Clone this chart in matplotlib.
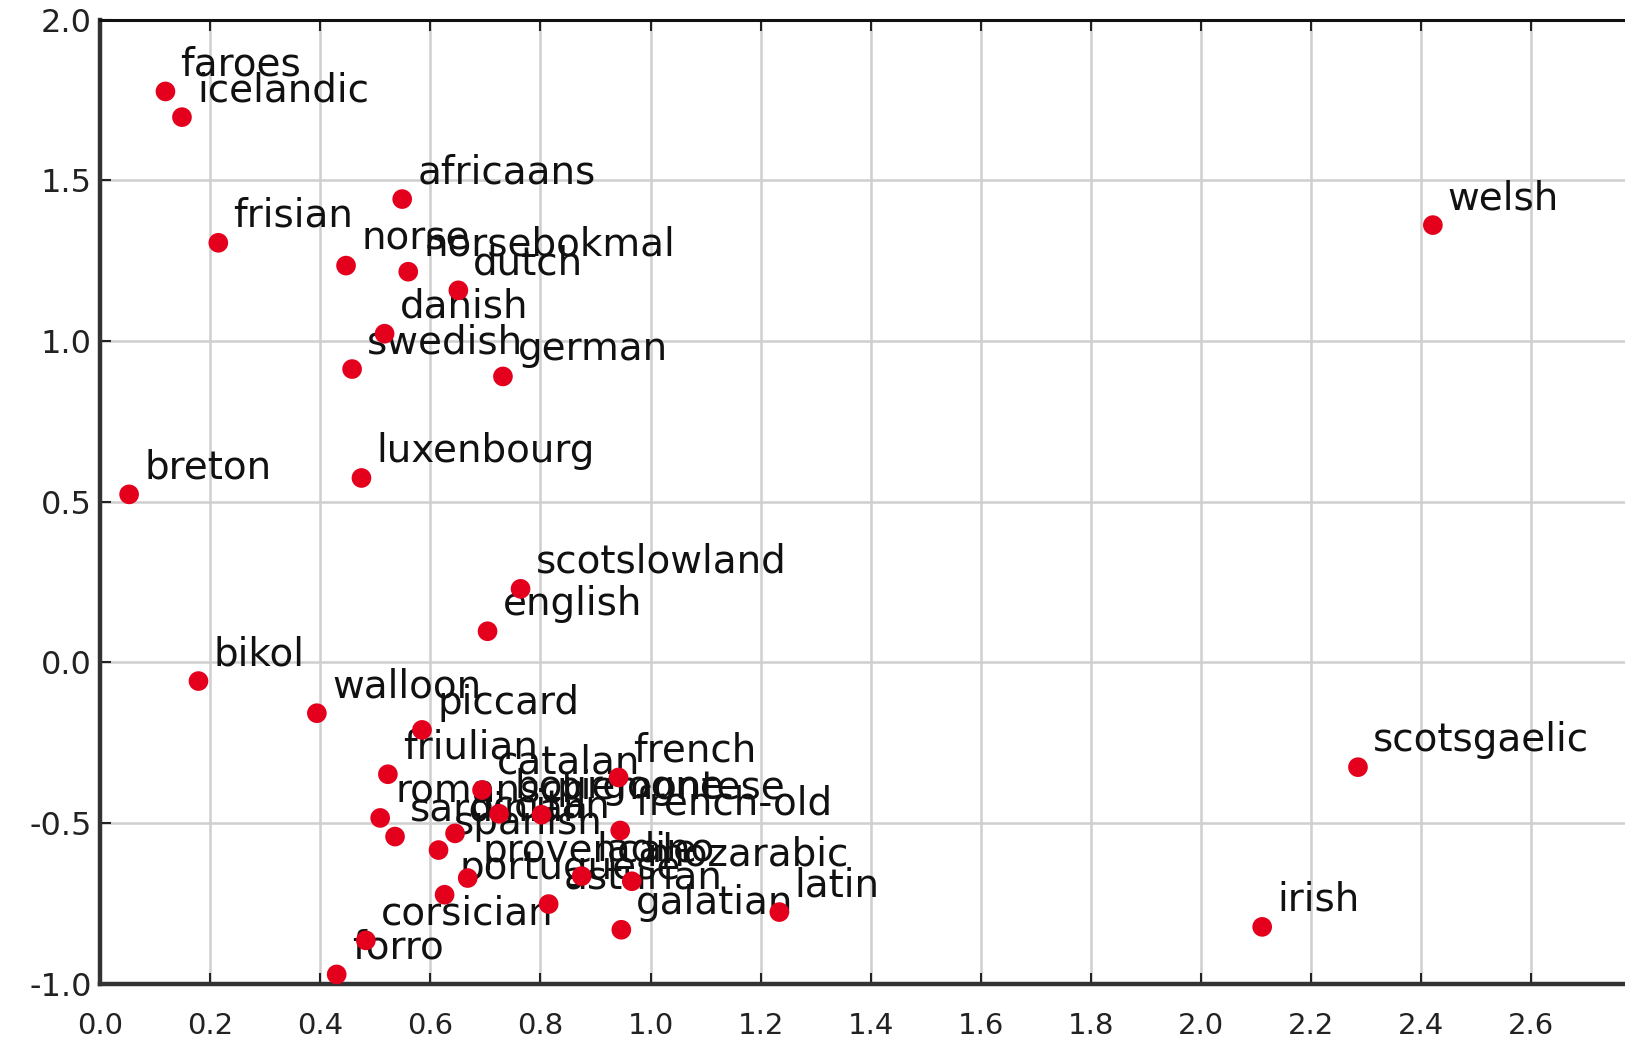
import matplotlib
matplotlib.use("Agg")
import matplotlib.pyplot as plt

# Language positions in the 2-D projection
languages = [
    "faroes", "icelandic", "africaans", "frisian", "norse", "norsebokmal",
    "dutch", "danish", "swedish", "german", "breton", "luxenbourg",
    "scotslowland", "english", "bikol", "walloon", "piccard", "friulian",
    "catalan", "french", "romansch", "sardinian", "occitan", "bourgogne",
    "piemontese", "spanish", "french-old", "provencale", "portuguese",
    "asturian", "ladino", "mozarabic", "galatian", "latin", "corsician",
    "forro", "welsh", "scotsgaelic", "irish",
]
x_vals = [
    0.119, 0.149, 0.549, 0.215, 0.447, 0.560,
    0.651, 0.517, 0.458, 0.732, 0.053, 0.475,
    0.764, 0.704, 0.179, 0.394, 0.585, 0.523,
    0.694, 0.942, 0.509, 0.536, 0.645, 0.725,
    0.802, 0.615, 0.945, 0.668, 0.626,
    0.815, 0.875, 0.966, 0.947, 1.234, 0.483,
    0.430, 2.421, 2.285, 2.111,
]
y_vals = [
    1.777, 1.697, 1.442, 1.306, 1.235, 1.216,
    1.158, 1.023, 0.913, 0.890, 0.523, 0.574,
    0.229, 0.097, -0.058, -0.158, -0.210, -0.348,
    -0.397, -0.358, -0.484, -0.542, -0.532, -0.471,
    -0.474, -0.584, -0.523, -0.671, -0.723,
    -0.752, -0.665, -0.681, -0.832, -0.777, -0.865,
    -0.971, 1.361, -0.326, -0.823,
]
x_ticks = [0.0, 0.2, 0.4, 0.6, 0.8, 1.0, 1.2, 1.4, 1.6, 1.8, 2.0, 2.2, 2.4, 2.6]
y_ticks = [-1.0, -0.5, 0.0, 0.5, 1.0, 1.5, 2.0]

fig = plt.figure(figsize=(16.25, 10.41), dpi=100)
ax = fig.add_axes([0.0615, 0.055, 0.9385, 0.926])

ax.set_xlim(0.0, 2.77)
ax.set_ylim(-1.0, 2.0)
ax.set_xticks(x_ticks)
ax.set_yticks(y_ticks)
ax.set_xticklabels([f"{t:.1f}" for t in x_ticks], fontsize=21, color="#222222")
ax.set_yticklabels([f"{t:.1f}" for t in y_ticks], fontsize=23, color="#222222")

ax.grid(True, color="#cfcfcf", linewidth=1.8, zorder=0)
ax.set_axisbelow(True)

ax.tick_params(axis="both", direction="in", length=8, width=1.5, color="#222222")
ax.tick_params(axis="x", pad=20, top=True)
ax.tick_params(axis="y", pad=6)

for side in ("left", "bottom"):
    ax.spines[side].set_linewidth(3.2)
    ax.spines[side].set_color("#333333")
ax.spines["top"].set_linewidth(2.2)
ax.spines["top"].set_color("#111111")
ax.spines["right"].set_visible(False)

# Labels sit up and to the right of each point; points are drawn on top
for name, x, y in zip(languages, x_vals, y_vals):
    ax.annotate(name, (x, y), xytext=(15, 27), textcoords="offset pixels",
                ha="left", va="center", fontsize=28, color="#111111",
                zorder=3, annotation_clip=False)

ax.scatter(x_vals, y_vals, s=200, color="#e4001c", edgecolors="none",
           zorder=4, clip_on=False)

fig.savefig("out.png", dpi=100)
